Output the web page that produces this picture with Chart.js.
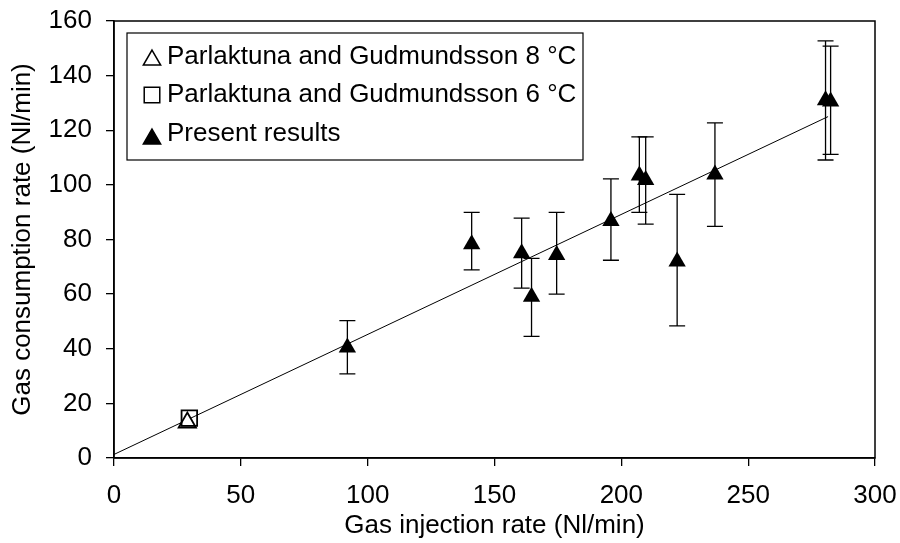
<!DOCTYPE html>
<html>
<head>
<meta charset="utf-8">
<script src="https://cdn.jsdelivr.net/npm/chart.js@4.4.1/dist/chart.umd.min.js"></script>
<style>
  html, body { margin: 0; padding: 0; background: #fff; }
  #wrap { width: 900px; height: 543px; position: relative; }
</style>
</head>
<body>
<div id="wrap"><canvas id="chart" width="900" height="543"></canvas></div>
<script>
// Parlaktuna and Gudmundsson points
const park8X = [28.9];
const park8Y = [13.0];
const park6X = [29.7];
const park6Y = [14.6];

// present results with error bar limits
const presentX  = [92.0, 141.0, 160.7, 164.6, 174.5, 195.9, 207.1, 209.6, 222.0, 236.9, 280.5, 282.5];
const presentY  = [40.5, 78.3, 75.0, 59.0, 74.3, 86.8, 103.4, 101.8, 71.9, 103.8, 131.0, 130.5];
const presentHi = [50.3, 89.9, 87.8, 73.1, 89.9, 102.2, 117.6, 117.6, 96.5, 122.7, 152.7, 150.8];
const presentLo = [30.8, 68.9, 62.2, 44.5, 60.0, 72.4, 89.9, 85.6, 48.4, 84.8, 109.1, 111.2];

// fitted line end points
const trendX = [0, 281.5];
const trendY = [1.3, 125.0];

const xTicks = [0, 50, 100, 150, 200, 250, 300];
const yTicks = [0, 20, 40, 60, 80, 100, 120, 140, 160];

const legendLabels = [
  'Parlaktuna and Gudmundsson 8 °C',
  'Parlaktuna and Gudmundsson 6 °C',
  'Present results',
];

const FONT = "'Liberation Sans', Arial, sans-serif";
const toPts = (xs, ys) => xs.map((x, i) => ({ x, y: ys[i] }));

const frame = {
  id: 'frame',
  afterDraw(chart) {
    const { ctx, chartArea: a } = chart;
    ctx.save();
    ctx.strokeStyle = '#000';
    ctx.lineWidth = 1.5;
    ctx.strokeRect(a.left, a.top, a.right - a.left, a.bottom - a.top);
    ctx.restore();
  },
};

const errorBars = {
  id: 'errorBars',
  afterDatasetsDraw(chart) {
    const { ctx, scales } = chart;
    ctx.save();
    ctx.strokeStyle = '#000';
    ctx.lineWidth = 1.3;
    presentX.forEach((x, i) => {
      const px = scales.x.getPixelForValue(x);
      const top = scales.y.getPixelForValue(presentHi[i]);
      const bot = scales.y.getPixelForValue(presentLo[i]);
      ctx.beginPath();
      ctx.moveTo(px, top); ctx.lineTo(px, bot);
      ctx.moveTo(px - 8, top); ctx.lineTo(px + 8, top);
      ctx.moveTo(px - 8, bot); ctx.lineTo(px + 8, bot);
      ctx.stroke();
    });
    ctx.restore();
  },
};

const boxLegend = {
  id: 'boxLegend',
  afterDraw(chart) {
    const { ctx, chartArea: a } = chart;
    const left = a.left + 13, top = a.top + 12;
    ctx.save();
    ctx.fillStyle = '#fff';
    ctx.fillRect(left, top, 456, 127);
    ctx.strokeStyle = '#000';
    ctx.lineWidth = 1.2;
    ctx.strokeRect(left, top, 456, 127);
    const styles = [
      { pointStyle: 'triangle', fill: '#fff', radius: 10, dy: 4 },
      { pointStyle: 'rect', fill: '#fff', radius: 11, dy: 1 },
      { pointStyle: 'triangle', fill: '#000', radius: 10, dy: 6 },
    ];
    const rows = [top + 23, top + 61, top + 100];
    ctx.font = '26px ' + FONT;
    ctx.textBaseline = 'middle';
    legendLabels.forEach((label, i) => {
      const s = styles[i];
      ctx.fillStyle = s.fill;
      ctx.strokeStyle = '#000';
      ctx.lineWidth = 1.5;
      Chart.helpers.drawPoint(ctx, { pointStyle: s.pointStyle, radius: s.radius, borderWidth: 1.5, rotation: 0 },
        left + 25, rows[i] + s.dy);
      ctx.fillStyle = '#000';
      ctx.fillText(label, left + 40, rows[i] + 1);
    });
    ctx.restore();
  },
};

new Chart(document.getElementById('chart'), {
  type: 'scatter',
  data: {
    datasets: [
      {
        label: 'fit',
        type: 'line',
        data: toPts(trendX, trendY),
        borderColor: '#000',
        borderWidth: 1,
        pointRadius: 0,
        tension: 0,
        order: 3,
      },
      {
        label: legendLabels[0],
        data: toPts(park8X, park8Y),
        pointStyle: 'triangle',
        pointRadius: 10,
        backgroundColor: '#fff',
        borderColor: '#000',
        borderWidth: 1.8,
        order: 2,
      },
      {
        label: legendLabels[1],
        data: toPts(park6X, park6Y),
        pointStyle: 'rect',
        pointRadius: 11,
        backgroundColor: 'rgba(255,255,255,0)',
        borderColor: '#000',
        borderWidth: 1.8,
        order: 1,
      },
      {
        label: legendLabels[2],
        data: toPts(presentX, presentY),
        pointStyle: 'triangle',
        pointRadius: 10,
        backgroundColor: '#000',
        borderColor: '#000',
        borderWidth: 0,
        order: 0,
      },
    ],
  },
  options: {
    responsive: false,
    animation: false,
    devicePixelRatio: 1,
    layout: { padding: { top: 21, right: 25, left: 0, bottom: 0 } },
    scales: {
      x: {
        type: 'linear',
        min: 0, max: 300,
        afterBuildTicks: (s) => { s.ticks = xTicks.map(v => ({ value: v })); },
        afterFit: (s) => { s.height = 85; s.paddingLeft = 0; s.paddingRight = 0; },
        grid: { display: true, drawOnChartArea: false, drawTicks: true, tickLength: 8, color: '#000', lineWidth: 1.3 },
        border: { display: true, color: '#000', width: 1.5 },
        ticks: { color: '#000', font: { family: FONT, size: 26 }, padding: 14, maxRotation: 0 },
        title: { display: true, text: 'Gas injection rate (Nl/min)', color: '#000', font: { family: FONT, size: 26 }, padding: { top: 0, bottom: 2 } },
      },
      y: {
        type: 'linear',
        min: 0, max: 160,
        afterBuildTicks: (s) => { s.ticks = yTicks.map(v => ({ value: v })); },
        afterFit: (s) => { s.width = 114; s.paddingTop = 0; s.paddingBottom = 0; },
        grid: { display: true, drawOnChartArea: false, drawTicks: true, tickLength: 8, color: '#000', lineWidth: 1.3 },
        border: { display: true, color: '#000', width: 1.5 },
        ticks: { color: '#000', font: { family: FONT, size: 26 }, padding: 14 },
        title: { display: true, text: 'Gas consumption rate (Nl/min)', color: '#000', font: { family: FONT, size: 26 }, padding: { bottom: 0, top: 7 } },
      },
    },
    plugins: {
      legend: { display: false },
      tooltip: { enabled: false },
    },
  },
  plugins: [errorBars, frame, boxLegend],
});
</script>
</body>
</html>
